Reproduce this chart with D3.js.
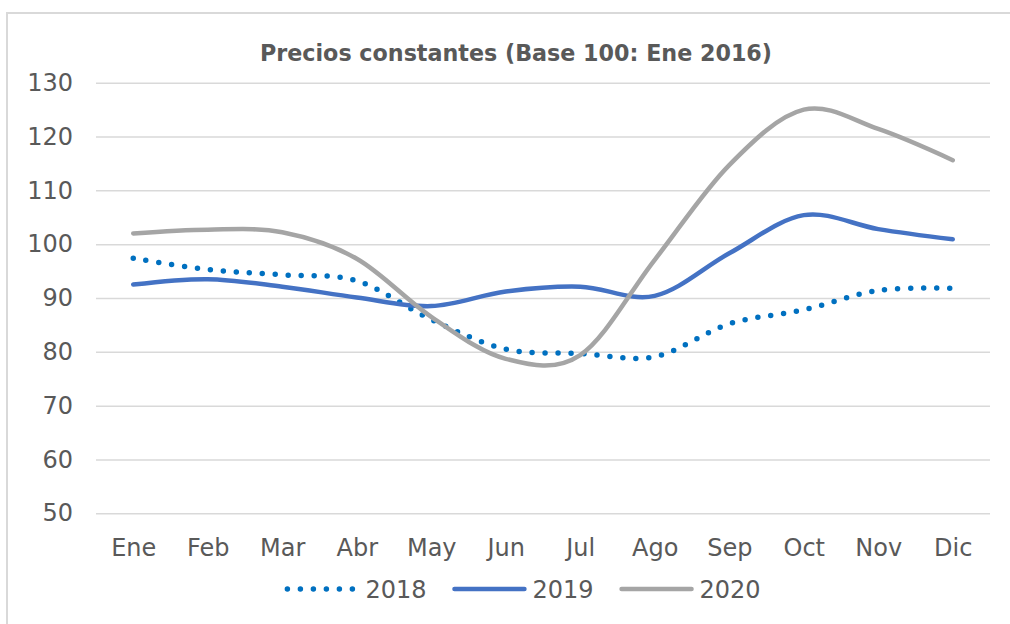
<!DOCTYPE html>
<html>
<head>
<meta charset="utf-8">
<script src="https://d3js.org/d3.v7.min.js"></script>
<style>
    body { margin: 0; background: #fff; }
    svg { display: block; }
    text { font-family: "DejaVu Sans", sans-serif; fill: #595959; }
</style>
</head>
<body>
<script>
//wrap everything in a self-executing anonymous function to move to local scope
(function(){

//chart data
var months = ["Ene", "Feb", "Mar", "Abr", "May", "Jun", "Jul", "Ago", "Sep", "Oct", "Nov", "Dic"];
var values2018 = [97.4, 95.3, 94.3, 93.2, 86.0, 80.5, 79.7, 79.1, 85.2, 87.8, 91.4, 91.8];
var values2019 = [92.5, 93.5, 92.1, 90.1, 88.5, 91.2, 92.1, 90.4, 98.3, 105.4, 102.8, 100.9];
var values2020 = [102.0, 102.7, 102.2, 97.3, 86.5, 78.7, 79.4, 97.1, 114.7, 125.0, 121.4, 115.6];
var yTicks = [50, 60, 70, 80, 90, 100, 110, 120, 130];
var seriesNames = ["2018", "2019", "2020"];
var titleText = "Precios constantes (Base 100: Ene 2016)";

//series look
var seriesColors = ["#0070c0", "#4472c4", "#a5a5a5"];
var seriesDash = ["0 13", null, null];

window.onload = setChart();

function setChart(){
    var width = 1010,
        height = 624,
        plotLeft = 96,
        plotRight = 990,
        plotTop = 82.7,
        plotBottom = 513.3;

    var svg = d3.select("body")
        .append("svg")
        .attr("width", width)
        .attr("height", height);

    //outer chart border
    svg.append("rect")
        .attr("x", 7)
        .attr("y", 13)
        .attr("width", 1010)
        .attr("height", 640)
        .attr("fill", "#fff")
        .attr("stroke", "#d9d9d9")
        .attr("stroke-width", 2);

    //scales
    var xScale = d3.scalePoint()
        .domain(months)
        .range([plotLeft, plotRight])
        .padding(0.5);

    var yScale = d3.scaleLinear()
        .domain([50, 130])
        .range([plotBottom, plotTop]);

    //title (squeezed to the width of the original)
    svg.append("text")
        .attr("x", 516)
        .attr("y", 61)
        .attr("text-anchor", "middle")
        .attr("font-size", 23)
        .attr("font-weight", "bold")
        .attr("textLength", 512)
        .attr("lengthAdjust", "spacingAndGlyphs")
        .text(titleText);

    //gridlines + y labels through the axis generator
    var yAxis = d3.axisLeft(yScale)
        .tickValues(yTicks)
        .tickSize(-(plotRight - plotLeft))
        .tickPadding(23)
        .tickFormat(d3.format("d"));

    var yAxisG = svg.append("g")
        .attr("transform", "translate(" + plotLeft + ",0)")
        .call(yAxis);
    yAxisG.select(".domain").remove();
    yAxisG.selectAll(".tick line")
        .attr("stroke", "#d9d9d9")
        .attr("stroke-width", 1.5);
    yAxisG.selectAll(".tick text")
        .attr("font-size", 24)
        .attr("font-family", "DejaVu Sans, sans-serif")
        .attr("fill", "#595959");

    //x labels
    var xAxis = d3.axisBottom(xScale)
        .tickSize(0)
        .tickPadding(26);

    var xAxisG = svg.append("g")
        .attr("transform", "translate(0," + plotBottom + ")")
        .call(xAxis);
    xAxisG.select(".domain").remove();
    xAxisG.selectAll(".tick text")
        .attr("font-size", 24)
        .attr("font-family", "DejaVu Sans, sans-serif")
        .attr("fill", "#595959");

    //smoothed lines like excel
    var line = d3.line()
        .x(function(d, i){ return xScale(months[i]); })
        .y(function(d){ return yScale(d); })
        .curve(d3.curveCardinal.tension(0));

    var allSeries = [values2018, values2019, values2020];

    svg.selectAll(".series")
        .data(allSeries)
        .enter()
        .append("path")
        .attr("class", "series")
        .attr("d", line)
        .attr("fill", "none")
        .attr("stroke", function(d, i){ return seriesColors[i]; })
        .attr("stroke-width", function(d, i){ return i == 0 ? 5.5 : 4.5; })
        .attr("stroke-linecap", "round")
        .attr("stroke-dasharray", function(d, i){ return seriesDash[i]; });

    setLegend(svg);
};

//legend below the chart, centered
function setLegend(svg){
    var sampleWidth = 70,
        sampleGap = 8,
        itemGap = 28,
        legendY = 589,
        centerX = 524;

    var legend = svg.append("g");

    var items = legend.selectAll(".legendItem")
        .data(seriesNames)
        .enter()
        .append("g")
        .attr("class", "legendItem");

    items.append("line")
        .attr("x1", 0)
        .attr("x2", sampleWidth)
        .attr("y1", legendY)
        .attr("y2", legendY)
        .attr("stroke", function(d, i){ return seriesColors[i]; })
        .attr("stroke-width", function(d, i){ return i == 0 ? 5.5 : 4.5; })
        .attr("stroke-linecap", "round")
        .attr("stroke-dasharray", function(d, i){ return seriesDash[i]; });

    items.append("text")
        .attr("x", sampleWidth + sampleGap)
        .attr("y", legendY + 8.5)
        .attr("font-size", 24)
        .text(function(d){ return d; });

    //place items one after another
    var offsets = [];
    var total = 0;
    items.each(function(d, i){
        var w = sampleWidth + sampleGap + d3.select(this).select("text").node().getComputedTextLength();
        offsets.push(total);
        total += w + (i < seriesNames.length - 1 ? itemGap : 0);
    });
    var start = centerX - total / 2;
    items.attr("transform", function(d, i){
        return "translate(" + (start + offsets[i]) + ",0)";
    });
};

})();
</script>
</body>
</html>
